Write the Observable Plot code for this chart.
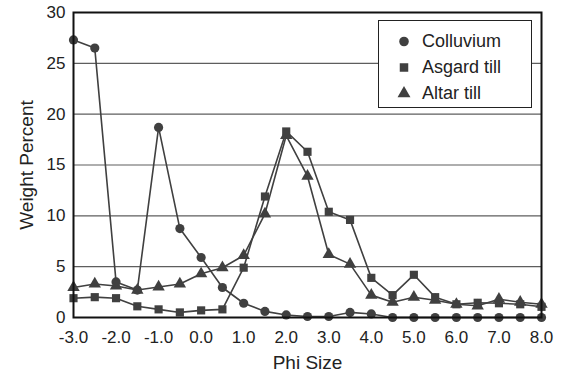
<!DOCTYPE html>
<html>
<head>
<meta charset="utf-8">
<script src="https://cdn.jsdelivr.net/npm/d3@7"></script>
<script src="https://cdn.jsdelivr.net/npm/@observablehq/plot@0.6"></script>
<style>
  body { margin: 0; background: #fff; font-family: "Liberation Sans", Arial, sans-serif; }
  #wrap { position: relative; width: 565px; height: 374px; }
  #legend { position: absolute; left: 378px; top: 20px; width: 154px; height: 88px;
    border: 1.5px solid #222; background: #fff; box-sizing: border-box; }
  .row { position: absolute; left: 0; height: 22px; display: flex; align-items: center; font-size: 18px; color: #222; }
  .row svg { margin-left: 18px; margin-right: 11px; }
</style>
</head>
<body>
<div id="wrap"></div>
<script>
const phi = [-3.0,-2.5,-2.0,-1.5,-1.0,-0.5,0.0,0.5,1.0,1.5,2.0,2.5,3.0,3.5,4.0,4.5,5.0,5.5,6.0,6.5,7.0,7.5,8.0];
const colluvium = [27.3,26.5,3.5,2.7,18.7,8.75,5.9,2.95,1.4,0.6,0.25,0.1,0.1,0.5,0.35,0,0,0,0,0,0,0,0];
const asgardTill = [1.9,2.0,1.9,1.1,0.8,0.5,0.7,0.8,4.9,11.9,18.3,16.3,10.4,9.6,3.9,2.2,4.2,2.0,1.3,1.45,1.4,1.3,1.05];
const altarTill = [2.95,3.3,3.1,2.7,3.0,3.3,4.3,4.9,6.1,10.2,17.9,13.9,6.2,5.25,2.2,1.5,2.0,1.7,1.3,1.15,1.8,1.5,1.3];
const seriesNames = ["Colluvium","Asgard till","Altar till"];
const seriesSymbols = ["circle","square","triangle"];
const xTicks = [-3,-2,-1,0,1,2,3,4,5,6,7,8];
const yTicks = [0,5,10,15,20,25,30];

const allSeries = [colluvium, asgardTill, altarTill];
const data = [];
allSeries.forEach((vals, si) => vals.forEach((v, i) => data.push({phi: phi[i], value: v, series: seriesNames[si]})));

const ink = "#404040";
const chart = Plot.plot({
  width: 565, height: 374,
  marginLeft: 73, marginRight: 24, marginTop: 12, marginBottom: 57,
  style: {fontFamily: "Liberation Sans, Arial, sans-serif", fontSize: "17px", color: "#222", background: "#fff"},
  x: {domain: [-3, 8], ticks: xTicks, tickFormat: d => d.toFixed(1), tickSize: 0, tickPadding: 13, label: "Phi Size", labelAnchor: "center", labelArrow: "none", labelOffset: 51},
  y: {domain: [0, 30], ticks: yTicks, tickSize: 0, tickPadding: 8, label: "Weight Percent", labelAnchor: "center", labelArrow: "none", labelOffset: 54},
  symbol: {domain: seriesNames, range: seriesSymbols},
  marks: [
    Plot.ruleY(yTicks.filter(t => t > 0 && t < 30), {stroke: "#5e5e5e", strokeWidth: 1.2}),
    Plot.line(data, {x: "phi", y: "value", z: "series", stroke: ink, strokeWidth: 1.6}),
    Plot.dot(data, {x: "phi", y: "value", symbol: "series", fill: ink, r: 4.6, stroke: "none"}),
    Plot.frame({stroke: "#111", strokeWidth: 2})
  ]
});
chart.querySelectorAll("g[aria-label='x-axis tick label'], g[aria-label='y-axis tick label']").forEach(g => {
  g.setAttribute("font-size", "17"); g.style.fontSize = "17px"; g.setAttribute("fill", "#222");
});
chart.querySelectorAll("g[aria-label='x-axis label'], g[aria-label='y-axis label']").forEach(g => {
  g.setAttribute("font-size", "19"); g.style.fontSize = "19px"; g.setAttribute("fill", "#222");
});
const wrap = document.getElementById("wrap");
wrap.appendChild(chart);

const legend = document.createElement("div");
legend.id = "legend";
const tops = [9, 35, 61];
seriesNames.forEach((name, i) => {
  const row = document.createElement("div");
  row.className = "row";
  row.style.top = tops[i] + "px";
  const s = d3.create("svg").attr("width", 14).attr("height", 14);
  const sym = {circle: d3.symbolCircle, square: d3.symbolSquare, triangle: d3.symbolTriangle}[seriesSymbols[i]];
  s.append("path").attr("transform", "translate(7,7.5)").attr("d", d3.symbol(sym, Math.PI * 4.8 * 4.8)()).attr("fill", ink);
  row.appendChild(s.node());
  const label = document.createElement("span");
  label.textContent = name;
  row.appendChild(label);
  legend.appendChild(row);
});
wrap.appendChild(legend);
</script>
</body>
</html>
